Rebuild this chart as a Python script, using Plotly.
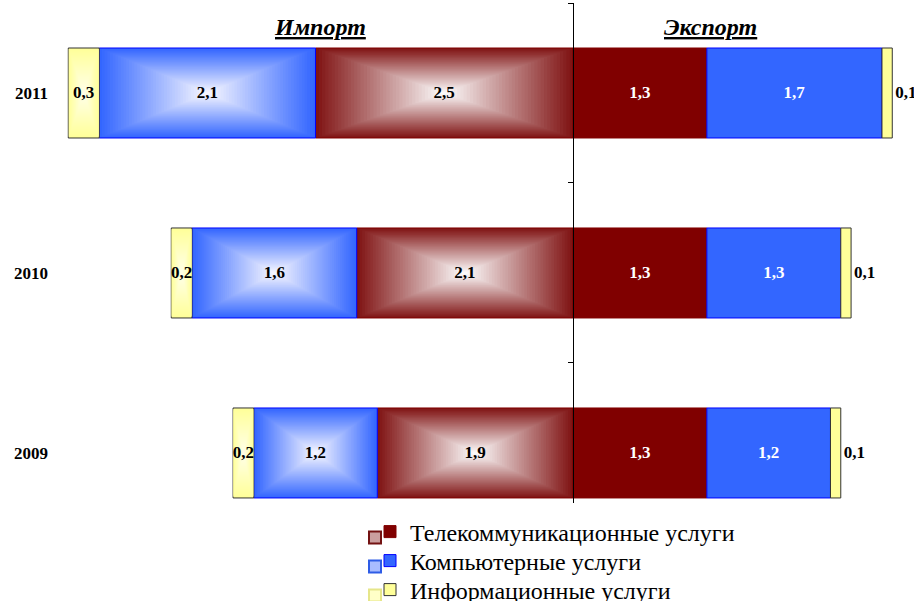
import plotly.graph_objects as go

# ---------------- data ----------------
years = ['2011', '2010', '2009']
series_names = ['Телекоммуникационные услуги', 'Компьютерные услуги', 'Информационные услуги']
import_telecom = [2.5, 2.1, 1.9]
import_computer = [2.1, 1.6, 1.2]
import_info = [0.3, 0.2, 0.2]
export_telecom = [1.3, 1.3, 1.3]
export_computer = [1.7, 1.3, 1.2]
export_info = [0.1, 0.1, 0.1]
title_import = 'Импорт'
title_export = 'Экспорт'

# ---------------- styles ----------------
FONT = 'Liberation Serif'
C_TEL = '#800000'
C_TEL_EDGE = (128, 20, 20)
C_TEL_CENTER = (252, 250, 250)
C_COMP = '#3366FF'
C_COMP_EDGE = (51, 102, 255)
C_COMP_CENTER = (246, 246, 255)
C_INFO = '#FFFF99'
C_INFO_EDGE = (255, 255, 153)
C_INFO_CENTER = (255, 255, 232)
BAR_W = 0.5
N_LEVELS = 40
LABEL_SIZE = 17


def mix(a, b, t):
    return 'rgb(%d,%d,%d)' % tuple(round(a[i] + (b[i] - a[i]) * t) for i in range(3))


def cumulative(*series):
    """Return list of (start, end) per series, stacking outward from 0."""
    out = []
    acc = [0.0] * len(series[0])
    for s in series:
        start = acc[:]
        acc = [a + v for a, v in zip(acc, s)]
        out.append((start, acc[:]))
    return out


fig = go.Figure()

imp_series = [import_telecom, import_computer, import_info]
exp_series = [export_telecom, export_computer, export_info]
imp_stack = cumulative(*imp_series)
exp_stack = cumulative(*exp_series)

grad_cfg = [
    (C_TEL_EDGE, C_TEL_CENTER, '#800000'),
    (C_COMP_EDGE, C_COMP_CENTER, '#0000FF'),
    (C_INFO_EDGE, C_INFO_CENTER, '#333333'),
]

# ---- import: gradient bars made of nested bars ----
for si, (vals, (start, end)) in enumerate(zip(imp_series, imp_stack)):
    edge, center, border = grad_cfg[si]
    centers = [-(s + e) / 2 for s, e in zip(start, end)]
    for k in range(N_LEVELS):
        sc = 1 - k / N_LEVELS
        lengths = [v * sc for v in vals]
        bases = [c - l / 2 for c, l in zip(centers, lengths)]
        fig.add_trace(go.Bar(
            y=years, x=lengths, base=bases, orientation='h',
            width=BAR_W * sc,
            marker=dict(color=mix(edge, center, k / (N_LEVELS - 1)),
                        line=dict(color=border, width=1 if k == 0 else 0)),
            showlegend=False, hoverinfo='skip'))
    # label layer
    fig.add_trace(go.Bar(
        y=years, x=vals, base=[-e for e in end], orientation='h', width=BAR_W,
        marker=dict(color='rgba(0,0,0,0)', line=dict(width=0)),
        text=vals, texttemplate='%{x:.1f}', textposition='inside', textangle=0,
        insidetextanchor='middle', constraintext='none',
        textfont=dict(family=FONT, size=LABEL_SIZE, color='black', weight='bold'),
        showlegend=False, hoverinfo='skip'))

# ---- legend swatches for the gradient (import) style ----
swatch_legends = ['legend4', 'legend5', 'legend6']
for si in range(3):
    edge, center, border = grad_cfg[si]
    fig.add_trace(go.Bar(
        y=[None], x=[None], orientation='h', name='', legend=swatch_legends[si],
        marker=dict(color=mix(edge, center, 0.6), line=dict(color=mix(edge, (0, 0, 0), 0.1), width=2)),
        showlegend=True, hoverinfo='skip'))

# ---- export: solid bars ----
exp_colors = [C_TEL, C_COMP, C_INFO]
exp_borders = ['#800000', '#0000FF', '#333333']
legend_ids = ['legend', 'legend2', 'legend3']
for si, (vals, (start, end)) in enumerate(zip(exp_series, exp_stack)):
    is_info = si == 2
    fig.add_trace(go.Bar(
        y=years, x=vals, base=start, orientation='h', width=BAR_W,
        name=series_names[si], legend=legend_ids[si],
        marker=dict(color=exp_colors[si], line=dict(color=exp_borders[si], width=1)),
        text=vals, texttemplate='%{x:.1f}', textangle=0,
        textposition='outside' if is_info else 'inside',
        insidetextanchor='middle', constraintext='none', cliponaxis=False,
        textfont=dict(family=FONT, size=LABEL_SIZE, color='black' if is_info else 'white',
                      weight='bold'),
        showlegend=True, hoverinfo='skip'))

# empty trace so that the central axis (yaxis2) is rendered
fig.add_trace(go.Scatter(x=[None], y=[None], yaxis='y2', showlegend=False,
                         hoverinfo='skip', mode='markers'))

# ---------------- layout ----------------
X_MIN, X_MAX = -5.029, 3.272
Y_MIN, Y_MAX = -0.278, 2.5
zero_pos = (0 - X_MIN) / (X_MAX - X_MIN)

legend_common = dict(xref='container', yref='container', xanchor='left', yanchor='middle',
                     font=dict(family=FONT, size=24, color='black'),
                     bgcolor='rgba(0,0,0,0)', itemclick=False, itemdoubleclick=False,
                     borderwidth=0)
legend_rows_y = [532, 561, 590]
LEG_X = 370
SWATCH_X = 355
SWATCH_DY = 6

fig.update_layout(
    width=914, height=601,
    margin=dict(l=55, r=4, t=3, b=98, autoexpand=False),
    paper_bgcolor='white', plot_bgcolor='white',
    barmode='overlay',
    separators=', ',
    font=dict(family=FONT, color='black'),
    xaxis=dict(range=[X_MIN, X_MAX], showgrid=False, zeroline=False,
               showticklabels=False, ticks='', showline=False, fixedrange=True),
    yaxis=dict(type='category', categoryorder='array', categoryarray=years[::-1],
               range=[Y_MIN, Y_MAX], showgrid=False, zeroline=False, showline=False,
               ticks='', ticklabelstandoff=6, fixedrange=True,
               tickfont=dict(family=FONT, size=LABEL_SIZE, weight='bold', color='black')),
    yaxis2=dict(overlaying='y', anchor='free', position=zero_pos, side='left',
                range=[Y_MIN, Y_MAX], showgrid=False, zeroline=False, fixedrange=True,
                showline=True, linecolor='black', linewidth=1,
                tickvals=[0.5, 1.5, 2.5], ticks='outside', ticklen=5,
                tickcolor='black', showticklabels=False),
    legend=dict(legend_common, x=LEG_X / 914, y=1 - legend_rows_y[0] / 601),
    legend2=dict(legend_common, x=LEG_X / 914, y=1 - legend_rows_y[1] / 601),
    legend3=dict(legend_common, x=LEG_X / 914, y=1 - legend_rows_y[2] / 601),
    legend4=dict(legend_common, x=SWATCH_X / 914, y=1 - (legend_rows_y[0] + SWATCH_DY) / 601),
    legend5=dict(legend_common, x=SWATCH_X / 914, y=1 - (legend_rows_y[1] + SWATCH_DY) / 601),
    legend6=dict(legend_common, x=SWATCH_X / 914, y=1 - (legend_rows_y[2] + SWATCH_DY) / 601),
    annotations=[
        dict(text='<b><i><u>%s</u></i></b>' % title_import, xref='paper', yref='paper',
             x=(320 - 55) / 855, y=(503 - 27) / 500, xanchor='center', yanchor='middle',
             showarrow=False, font=dict(family=FONT, size=24)),
        dict(text='<b><i><u>%s</u></i></b>' % title_export, xref='paper', yref='paper',
             x=(710 - 55) / 855, y=(503 - 27) / 500, xanchor='center', yanchor='middle',
             showarrow=False, font=dict(family=FONT, size=24)),
    ],
    showlegend=True,
)

fig.write_html('out.html', config={'displayModeBar': False},
               post_script="document.body.style.margin='0px';")
